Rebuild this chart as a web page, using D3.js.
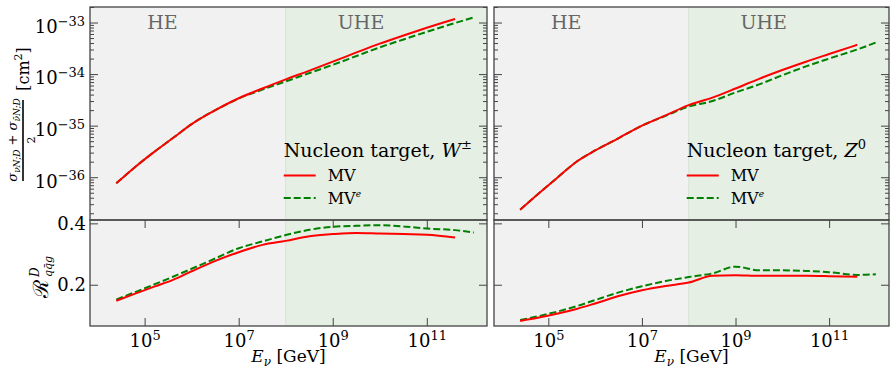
<!DOCTYPE html>
<html>
<head>
<meta charset="utf-8">
<script src="https://cdn.jsdelivr.net/npm/d3@7"></script>
<style>
  body { margin: 0; background: #fff; }
  svg { display: block; }
  text { font-family: "DejaVu Serif", serif; fill: #000; }
</style>
</head>
<body>
<div id="chart"></div>
<script>
var w = 890;
var h = 370;

// neutrino energy grid [GeV]
var energyMV  = [2.5e4, 6.3e4, 1.6e5, 4e5, 1e6, 3.2e6, 1e7, 3.2e7, 1e8, 3.2e8, 1e9, 3.2e9, 1e10, 3.2e10, 1e11, 4e11];
var energyMVe = [2.5e4, 6.3e4, 1.6e5, 4e5, 1e6, 3.2e6, 1e7, 3.2e7, 1e8, 3.2e8, 1e9, 3.2e9, 1e10, 3.2e10, 1e11, 4e11, 1e12];

// averaged cross sections [cm^2]
var sigmaW_MV  = [7.6e-37, 1.58e-36, 3.1e-36, 5.75e-36, 1.07e-35, 2.0e-35, 3.4e-35, 5.25e-35, 7.9e-35, 1.17e-34, 1.74e-34, 2.63e-34, 3.9e-34, 5.6e-34, 7.9e-34, 1.17e-33];
var sigmaW_MVe = [7.6e-37, 1.58e-36, 3.1e-36, 5.75e-36, 1.07e-35, 2.0e-35, 3.35e-35, 5.0e-35, 7.2e-35, 1.05e-34, 1.51e-34, 2.24e-34, 3.3e-34, 4.7e-34, 6.6e-34, 9.8e-34, 1.26e-33];
var sigmaZ_MV  = [2.34e-37, 4.9e-37, 1.0e-36, 2.0e-36, 3.3e-36, 5.75e-36, 1.0e-35, 1.58e-35, 2.5e-35, 3.5e-35, 5.25e-35, 8.1e-35, 1.2e-34, 1.74e-34, 2.45e-34, 3.7e-34];
var sigmaZ_MVe = [2.34e-37, 4.9e-37, 1.0e-36, 2.0e-36, 3.3e-36, 5.75e-36, 1.0e-35, 1.55e-35, 2.34e-35, 3.0e-35, 4.4e-35, 6.3e-35, 9.5e-35, 1.41e-34, 2.0e-34, 3.0e-34, 4.1e-34];

// ratio R^D_qqg
var ratioW_MV  = [0.148, 0.171, 0.194, 0.216, 0.244, 0.278, 0.306, 0.330, 0.343, 0.358, 0.365, 0.369, 0.367, 0.365, 0.363, 0.354];
var ratioW_MVe = [0.152, 0.176, 0.201, 0.226, 0.252, 0.286, 0.319, 0.341, 0.362, 0.379, 0.389, 0.392, 0.394, 0.390, 0.383, 0.378, 0.370];
var ratioZ_MV  = [0.082, 0.093, 0.106, 0.121, 0.139, 0.163, 0.182, 0.196, 0.207, 0.229, 0.231, 0.229, 0.229, 0.229, 0.228, 0.226];
var ratioZ_MVe = [0.085, 0.098, 0.113, 0.130, 0.150, 0.175, 0.195, 0.212, 0.225, 0.237, 0.259, 0.247, 0.247, 0.245, 0.241, 0.232, 0.234];

var xTicks = [1e5, 1e7, 1e9, 1e11];
var xTickExp = ["5", "7", "9", "11"];
var sigmaTicks = [1e-36, 1e-35, 1e-34, 1e-33];
var sigmaTickExp = ["\u221236", "\u221235", "\u221234", "\u221233"];
var ratioTicks = [0.2, 0.4];
var heUheSplit = 1e8;
var regionLabels = ["HE", "UHE"];
var regionLabelAt = [2.4e5, 4e9];
var legendLabels = ["MV", "MV"];

var panels = [
  {x0: 90, x1: 487, sigMV: sigmaW_MV, sigMVe: sigmaW_MVe, ratMV: ratioW_MV, ratMVe: ratioW_MVe, boson: "W", bosonSup: "\u00b1", labels: true},
  {x0: 494, x1: 889, sigMV: sigmaZ_MV, sigMVe: sigmaZ_MVe, ratMV: ratioZ_MV, ratMVe: ratioZ_MVe, boson: "Z", bosonSup: "0", labels: false}
];

var topY0 = 7, topY1 = 220, botY1 = 326;
var axisCol = "#444";
var red = "#ff0000", green = "#008000";

var svg = d3.select("#chart")
            .append("svg")
            .attr("width", w)
            .attr("height", h)
            .style("background-color", "white");

var yTop = d3.scaleLog().domain([1.48e-37, 2.0e-33]).range([topY1, topY0]);
var yBot = d3.scaleLinear().domain([0.0655, 0.411]).range([botY1, topY1]);

function powLabels(sel, exps, size) {
  sel.selectAll(".tick text").each(function(d, i) {
    var t = d3.select(this);
    t.text(null).attr("font-size", size).attr("font-family", "DejaVu Serif");
    t.append("tspan").text("10");
    t.append("tspan").attr("dy", "-0.55em").attr("font-size", "0.72em").text(exps[i]);
  });
}

function styleAxis(g) {
  g.select(".domain").remove();
  g.selectAll(".tick line").attr("stroke", axisCol).attr("stroke-width", 1);
}

panels.forEach(function(p) {
  var xScale = d3.scaleLog().domain([6.9e3, 1.905e12]).range([p.x0, p.x1]);
  var xs = xScale(heUheSplit);

  // HE / UHE shading
  svg.append("rect").attr("x", p.x0).attr("y", topY0).attr("width", xs - p.x0).attr("height", botY1 - topY0).attr("fill", "#f1f1f1");
  svg.append("rect").attr("x", xs).attr("y", topY0).attr("width", p.x1 - xs).attr("height", botY1 - topY0).attr("fill", "#e5efe4");
  svg.append("line").attr("x1", xs).attr("x2", xs).attr("y1", topY0).attr("y2", botY1).attr("stroke", "#d6e3d5").attr("stroke-width", 1);

  regionLabels.forEach(function(lbl, i) {
    svg.append("text").attr("x", xScale(regionLabelAt[i])).attr("y", 29).attr("text-anchor", "middle")
       .attr("font-size", 19).style("fill", "#666").text(lbl);
  });

  // curves
  var lineTop = d3.line().curve(d3.curveMonotoneX).x(d => xScale(d[0])).y(d => yTop(d[1]));
  var lineBot = d3.line().curve(d3.curveMonotoneX).x(d => xScale(d[0])).y(d => yBot(d[1]));

  svg.append("path").attr("d", lineTop(d3.zip(energyMVe, p.sigMVe)))
     .attr("fill", "none").attr("stroke", green).attr("stroke-width", 2).attr("stroke-dasharray", "7,3");
  svg.append("path").attr("d", lineTop(d3.zip(energyMV, p.sigMV)))
     .attr("fill", "none").attr("stroke", red).attr("stroke-width", 2);
  svg.append("path").attr("d", lineBot(d3.zip(energyMVe, p.ratMVe)))
     .attr("fill", "none").attr("stroke", green).attr("stroke-width", 2).attr("stroke-dasharray", "7,3");
  svg.append("path").attr("d", lineBot(d3.zip(energyMV, p.ratMV)))
     .attr("fill", "none").attr("stroke", red).attr("stroke-width", 2);

  // ticks, all pointing inward
  var minor = yTop.ticks().filter(v => Math.abs(Math.log10(v) - Math.round(Math.log10(v))) > 1e-6);

  var gl = svg.append("g").attr("transform", `translate(${p.x0},0)`)
              .call(d3.axisLeft(yTop).tickValues(sigmaTicks).tickSize(-8).tickPadding(5));
  styleAxis(gl);
  if (p.labels) powLabels(gl, sigmaTickExp, 18); else gl.selectAll(".tick text").remove();
  gl.selectAll(".tick text").attr("dy", "0.55em");

  var gm = svg.append("g").attr("transform", `translate(${p.x0},0)`)
              .call(d3.axisLeft(yTop).tickValues(minor).tickSize(-4).tickFormat(""));
  styleAxis(gm);
  var gr = svg.append("g").attr("transform", `translate(${p.x1},0)`)
              .call(d3.axisRight(yTop).tickValues(sigmaTicks).tickSize(-8).tickFormat(""));
  styleAxis(gr);
  var grm = svg.append("g").attr("transform", `translate(${p.x1},0)`)
               .call(d3.axisRight(yTop).tickValues(minor).tickSize(-4).tickFormat(""));
  styleAxis(grm);

  var bl = svg.append("g").attr("transform", `translate(${p.x0},0)`)
              .call(d3.axisLeft(yBot).tickValues(ratioTicks).tickSize(-8).tickPadding(4).tickFormat(d3.format(".1f")));
  styleAxis(bl);
  bl.selectAll(".tick text").attr("font-size", 18).attr("font-family", "DejaVu Serif");
  if (!p.labels) bl.selectAll(".tick text").remove();
  var br = svg.append("g").attr("transform", `translate(${p.x1},0)`)
              .call(d3.axisRight(yBot).tickValues(ratioTicks).tickSize(-8).tickFormat(""));
  styleAxis(br);

  var bx = svg.append("g").attr("transform", `translate(0,${botY1})`)
              .call(d3.axisBottom(xScale).tickValues(xTicks).tickSize(-8));
  styleAxis(bx);
  powLabels(bx, xTickExp, 18);
  bx.selectAll(".tick text").attr("y", 21).attr("dy", 0);
  var tx = svg.append("g").attr("transform", `translate(0,${topY1})`)
              .call(d3.axisTop(xScale).tickValues(xTicks).tickSize(-8).tickFormat(""));
  styleAxis(tx);

  // frames
  svg.append("rect").attr("x", p.x0).attr("y", topY0).attr("width", p.x1 - p.x0).attr("height", topY1 - topY0)
     .attr("fill", "none").attr("stroke", axisCol).attr("stroke-width", 1.3);
  svg.append("rect").attr("x", p.x0).attr("y", topY1).attr("width", p.x1 - p.x0).attr("height", botY1 - topY1)
     .attr("fill", "none").attr("stroke", axisCol).attr("stroke-width", 1.3);

  // x label
  var xl = svg.append("text").attr("x", (p.x0 + p.x1) / 2).attr("y", 362).attr("text-anchor", "middle").attr("font-size", 17);
  xl.append("tspan").attr("font-style", "italic").text("E");
  xl.append("tspan").attr("font-style", "italic").attr("font-size", 12).attr("dy", 4).text("\u03bd");
  xl.append("tspan").attr("dy", -4).text(" [GeV]");

  // legend
  var lx = xs - 2;
  var lg = svg.append("g").attr("class", "legend");
  var tt = lg.append("text").attr("x", lx).attr("y", 157).attr("font-size", 19);
  tt.append("tspan").text("Nucleon target, ");
  tt.append("tspan").attr("font-style", "italic").text(p.boson);
  tt.append("tspan").attr("font-size", 13).attr("dy", -8).text(p.bosonSup);

  lg.append("line").attr("x1", lx).attr("x2", lx + 32).attr("y1", 175.5).attr("y2", 175.5)
    .attr("stroke", red).attr("stroke-width", 2);
  lg.append("text").attr("x", lx + 44).attr("y", 181).attr("font-size", 16).text(legendLabels[0]);
  lg.append("line").attr("x1", lx).attr("x2", lx + 32).attr("y1", 198).attr("y2", 198)
    .attr("stroke", green).attr("stroke-width", 2).attr("stroke-dasharray", "7,3");
  var t2 = lg.append("text").attr("x", lx + 44).attr("y", 203.5).attr("font-size", 16);
  t2.append("tspan").text(legendLabels[1]);
  t2.append("tspan").attr("font-style", "italic").attr("font-size", 9).attr("dy", -7).text("e");
});

// y label, top panels
var yl = svg.append("g").attr("transform", "rotate(-90)");
var num = yl.append("text").attr("x", -140).attr("y", 17).attr("text-anchor", "middle").attr("font-size", 13);
num.append("tspan").attr("font-style", "italic").text("\u03c3");
num.append("tspan").attr("font-style", "italic").attr("font-size", 9).attr("dy", 3).text("\u03bdN;D");
num.append("tspan").attr("dy", -3).text(" + ");
num.append("tspan").attr("font-style", "italic").text("\u03c3");
num.append("tspan").attr("font-style", "italic").attr("font-size", 9).attr("dy", 3).text("\u03bd\u0304N;D");
yl.append("line").attr("x1", -181).attr("x2", -100).attr("y1", 23).attr("y2", 23).attr("stroke", "#000").attr("stroke-width", 1.6);
yl.append("text").attr("x", -140).attr("y", 35).attr("text-anchor", "middle").attr("font-size", 11).text("2");
var cm = yl.append("text").attr("x", -69).attr("y", 29).attr("text-anchor", "middle").attr("font-size", 16);
cm.append("tspan").text("[cm");
cm.append("tspan").attr("font-size", 11).attr("dy", -7).text("2");
cm.append("tspan").attr("dy", 7).text("]");

// y label, bottom panels
var rl = svg.append("g").attr("transform", "rotate(-90)");
rl.append("text").attr("x", -298).attr("y", 48).attr("font-size", 21).text("\u211b");
rl.append("text").attr("x", -277).attr("y", 39).attr("font-size", 12).attr("font-style", "italic").text("D");
rl.append("text").attr("x", -277).attr("y", 52).attr("font-size", 11).attr("font-style", "italic").text("q\u0071\u0304g");
</script>
</body>
</html>
